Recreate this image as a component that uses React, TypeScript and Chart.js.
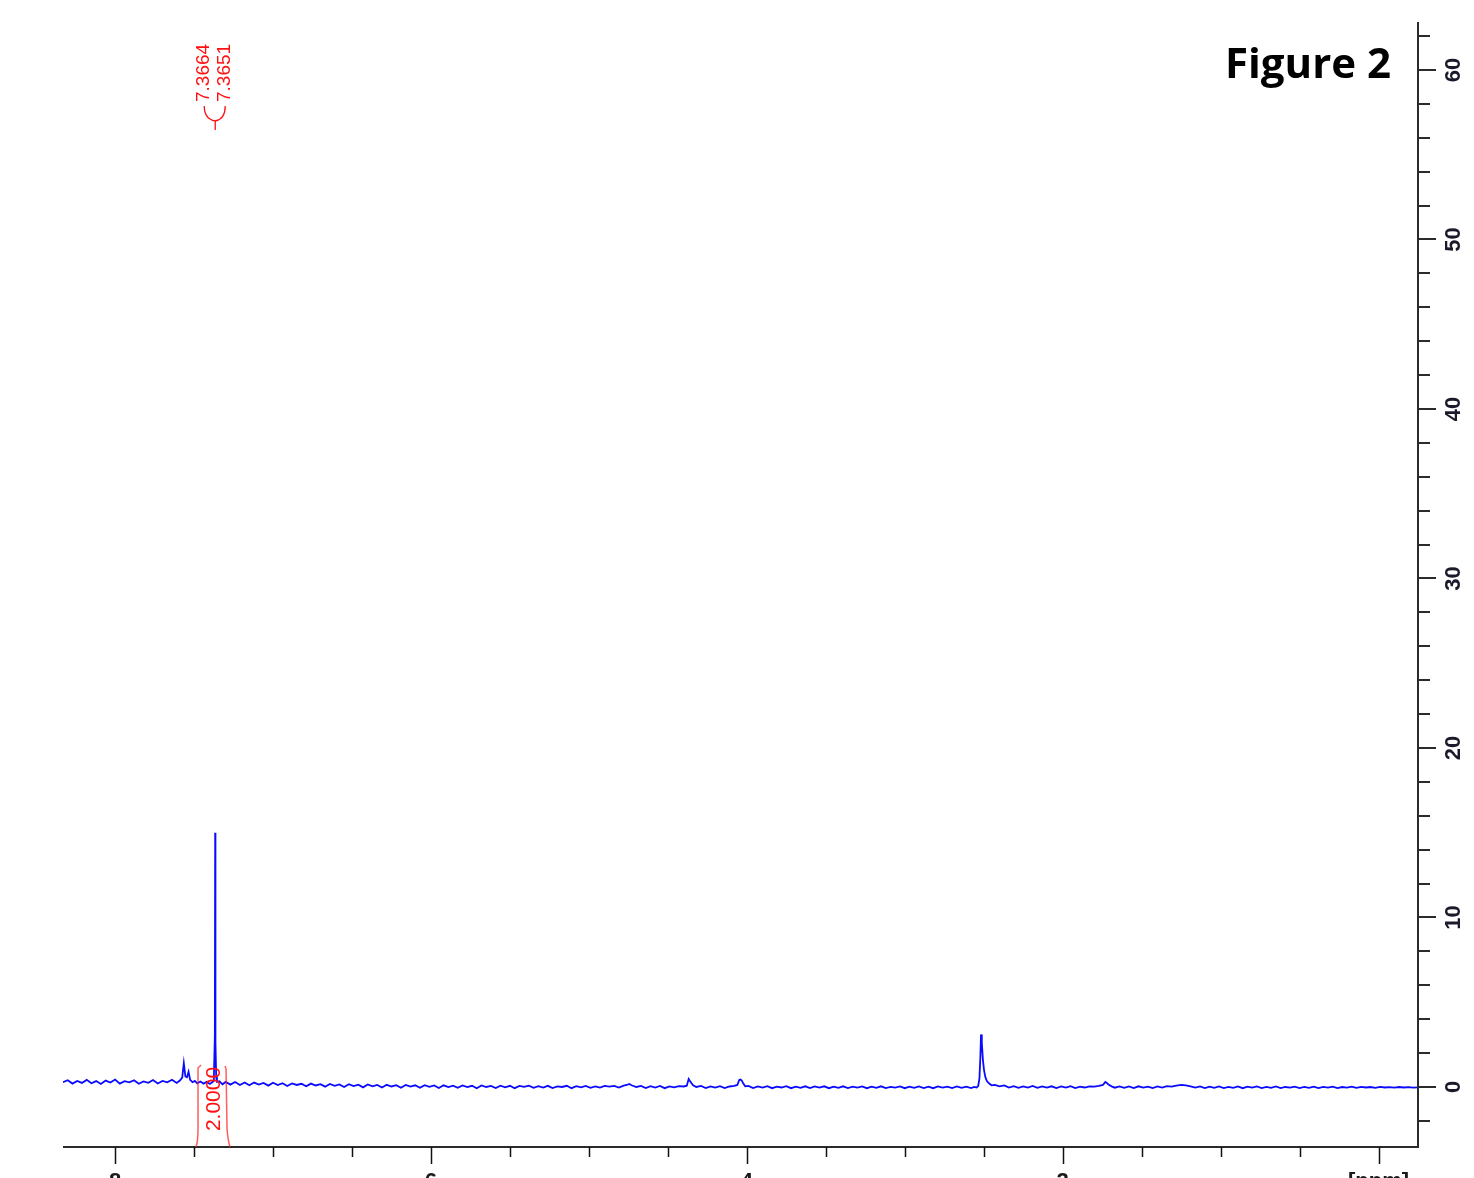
import React, { useEffect, useRef } from "react";
import { Chart, registerables } from "chart.js";

Chart.register(...registerables);

// ---- spectrum data (chemical shift in ppm, intensity); rows are aligned 10 per line ----
const ppm: number[] = [
  8.33, 8.3, 8.27, 8.24, 8.21, 8.18, 8.15, 8.12, 8.09, 8.06,
  8.03, 8.0, 7.97, 7.94, 7.91, 7.88, 7.85, 7.82, 7.79, 7.76,
  7.73, 7.7, 7.67, 7.64, 7.61, 7.59, 7.575, 7.565, 7.555, 7.545,
  7.535, 7.525, 7.51, 7.495, 7.48, 7.46, 7.44, 7.42, 7.4, 7.385,
  7.375, 7.3685, 7.3664, 7.3658, 7.3651, 7.363, 7.36, 7.355, 7.34, 7.32,
  7.3, 7.27, 7.24, 7.21, 7.18, 7.15, 7.12, 7.09, 7.06, 7.03,
  7.0, 6.97, 6.94, 6.91, 6.88, 6.85, 6.82, 6.79, 6.76, 6.73,
  6.7, 6.67, 6.64, 6.61, 6.58, 6.55, 6.52, 6.49, 6.46, 6.43,
  6.4, 6.37, 6.34, 6.31, 6.28, 6.25, 6.22, 6.19, 6.16, 6.13,
  6.1, 6.07, 6.04, 6.01, 5.98, 5.95, 5.92, 5.89, 5.86, 5.83,
  5.8, 5.77, 5.74, 5.71, 5.68, 5.65, 5.62, 5.59, 5.56, 5.53,
  5.5, 5.47, 5.44, 5.41, 5.38, 5.35, 5.32, 5.29, 5.26, 5.23,
  5.2, 5.17, 5.14, 5.11, 5.08, 5.05, 5.02, 4.99, 4.96, 4.93,
  4.9, 4.87, 4.84, 4.81, 4.78, 4.76, 4.745, 4.73, 4.7, 4.67,
  4.64, 4.61, 4.58, 4.55, 4.52, 4.49, 4.46, 4.43, 4.4, 4.38,
  4.368, 4.36, 4.35, 4.34, 4.32, 4.29, 4.26, 4.23, 4.2, 4.17,
  4.14, 4.11, 4.08, 4.06, 4.048, 4.04, 4.032, 4.022, 4.01, 3.99,
  3.96, 3.93, 3.9, 3.87, 3.84, 3.81, 3.78, 3.75, 3.72, 3.69,
  3.66, 3.63, 3.6, 3.57, 3.54, 3.51, 3.48, 3.45, 3.42, 3.39,
  3.36, 3.33, 3.3, 3.27, 3.24, 3.21, 3.18, 3.15, 3.12, 3.09,
  3.06, 3.03, 3.0, 2.97, 2.94, 2.91, 2.88, 2.85, 2.82, 2.79,
  2.76, 2.73, 2.7, 2.67, 2.64, 2.61, 2.58, 2.56, 2.545, 2.535,
  2.527, 2.521, 2.517, 2.512, 2.505, 2.498, 2.49, 2.48, 2.465, 2.45,
  2.43, 2.4, 2.37, 2.34, 2.31, 2.28, 2.25, 2.22, 2.19, 2.16,
  2.13, 2.1, 2.07, 2.04, 2.01, 1.98, 1.95, 1.92, 1.89, 1.86,
  1.83, 1.8, 1.77, 1.745, 1.73, 1.72, 1.71, 1.69, 1.67, 1.64,
  1.61, 1.58, 1.55, 1.52, 1.49, 1.46, 1.43, 1.4, 1.37, 1.34,
  1.31, 1.28, 1.25, 1.22, 1.19, 1.16, 1.13, 1.1, 1.07, 1.04,
  1.01, 0.98, 0.95, 0.92, 0.89, 0.86, 0.83, 0.8, 0.77, 0.74,
  0.71, 0.68, 0.65, 0.62, 0.59, 0.56, 0.53, 0.5, 0.47, 0.44,
  0.41, 0.38, 0.35, 0.32, 0.29, 0.26, 0.23, 0.2, 0.17, 0.14,
  0.11, 0.08, 0.05, 0.02, -0.01, -0.04, -0.07, -0.1, -0.13, -0.16,
  -0.19, -0.22, -0.25,
];

const intensity: number[] = [
  0.28, 0.4, 0.2, 0.36, 0.24, 0.42, 0.22, 0.35, 0.18, 0.38,
  0.26, 0.44, 0.2, 0.34, 0.27, 0.4, 0.19, 0.33, 0.25, 0.41,
  0.21, 0.36, 0.28, 0.43, 0.24, 0.38, 0.55, 1.4, 0.62, 0.58,
  0.9, 0.42, 0.28, 0.36, 0.22, 0.32, 0.2, 0.3, 0.18, 0.28,
  0.36, 3.0, 15.0, 7.2, 9.2, 2.6, 0.6, 0.3, 0.34, 0.16,
  0.3, 0.14, 0.29, 0.12, 0.27, 0.1, 0.26, 0.14, 0.24, 0.08,
  0.25, 0.11, 0.22, 0.06, 0.21, 0.12, 0.19, 0.04, 0.2, 0.09,
  0.17, 0.02, 0.18, 0.07, 0.15, 0.0, 0.16, 0.05, 0.14, -0.02,
  0.15, 0.04, 0.12, -0.03, 0.13, 0.03, 0.11, -0.04, 0.12, 0.02,
  0.1, -0.05, 0.11, 0.01, 0.09, -0.06, 0.1, 0.0, 0.08, -0.05,
  0.09, -0.01, 0.07, -0.07, 0.09, 0.0, 0.06, -0.06, 0.08, -0.02,
  0.07, -0.07, 0.06, 0.01, 0.08, -0.05, 0.05, -0.03, 0.07, -0.06,
  0.04, 0.0, 0.07, -0.07, 0.05, -0.02, 0.06, -0.05, 0.04, -0.03,
  0.07, 0.02, 0.06, -0.03, 0.08, 0.12, 0.18, 0.1, 0.0, 0.06,
  -0.06, 0.05, -0.03, 0.06, -0.07, 0.04, -0.02, 0.05, 0.03, 0.08,
  0.48, 0.36, 0.22, 0.1, 0.0, 0.06, -0.06, 0.04, -0.03, 0.05,
  -0.06, 0.03, 0.06, 0.12, 0.42, 0.44, 0.38, 0.2, 0.04, 0.06,
  -0.06, 0.03, -0.04, 0.05, -0.07, 0.02, -0.03, 0.05, -0.07, 0.02,
  -0.05, 0.04, -0.06, 0.03, -0.04, 0.04, -0.07, 0.02, -0.05, 0.04,
  -0.06, 0.02, -0.04, 0.03, -0.07, 0.02, -0.05, 0.04, -0.06, 0.01,
  -0.04, 0.03, -0.07, 0.02, -0.05, 0.03, -0.06, 0.02, -0.07, 0.03,
  -0.04, 0.02, -0.06, 0.03, -0.05, 0.02, -0.06, 0.01, -0.03, 0.05,
  0.5, 1.8, 3.1, 2.6, 1.6, 1.0, 0.6, 0.35, 0.2, 0.1,
  0.12, 0.04, 0.09, -0.03, 0.05, -0.05, 0.04, -0.03, 0.06, -0.05,
  0.03, -0.04, 0.04, -0.06, 0.03, -0.04, 0.05, -0.06, 0.02, -0.03,
  0.04, 0.02, 0.06, 0.12, 0.3, 0.24, 0.14, 0.04, -0.04, 0.04,
  -0.05, 0.03, -0.06, 0.04, -0.04, 0.02, -0.06, 0.03, -0.04, 0.05,
  0.02, 0.08, 0.12, 0.1, 0.04, -0.04, 0.03, -0.06, 0.02, -0.05,
  0.03, -0.06, 0.01, -0.05, 0.03, -0.07, 0.02, -0.04, 0.03, -0.06,
  0.01, -0.05, 0.03, -0.07, 0.0, -0.04, 0.02, -0.06, 0.01, -0.05,
  0.02, -0.07, 0.01, -0.04, 0.02, -0.06, 0.0, -0.04, 0.02, -0.05,
  0.01, -0.03, 0.0, -0.05, 0.01, -0.03, -0.01, -0.04, 0.0, -0.03,
  -0.01, -0.04, -0.02,
];

// ---- axes ----
const xMin = -0.25;
const xMax = 8.33;
const yMin = -3.54;
const yMax = 62.83;
const xMajorTicks: number[] = [8, 6, 4, 2, 0];
const xTickLabels: string[] = ["8", "6", "4", "2", "[ppm]"];
const xMinorTicks: number[] = [7.5, 7, 6.5, 5.5, 5, 4.5, 3.5, 3, 2.5, 1.5, 1, 0.5];
const yMajorTicks: number[] = [0, 10, 20, 30, 40, 50, 60];
const yTickLabels: string[] = ["0", "10", "20", "30", "40", "50", "60"];
const yMinorTicks: number[] = [-2, 2, 4, 6, 8, 12, 14, 16, 18, 22, 24, 26, 28, 32, 34, 36, 38, 42, 44, 46, 48, 52, 54, 56, 58, 62];

// ---- annotations ----
const peakLabels: string[] = ["7.3664", "7.3651"];
const peakPpm = 7.366;
const integralFrom = 7.475;
const integralTo = 7.285;
const integralLabel = "2.0000";
const integralTop = 1.3;
const titleText = "Figure 2";

const annotationPlugin = {
  id: "nmrDecor",
  afterDraw(chart: any) {
    const ctx: CanvasRenderingContext2D = chart.ctx;
    const xs = chart.scales.x;
    const ys = chart.scales.y;
    const area = chart.chartArea;
    ctx.save();

    // axes lines
    ctx.strokeStyle = "#2b2b2b";
    ctx.lineWidth = 2;
    ctx.beginPath();
    ctx.moveTo(area.left, area.bottom);
    ctx.lineTo(area.right, area.bottom);
    ctx.lineTo(area.right, area.top);
    ctx.stroke();

    // x ticks
    ctx.lineWidth = 1.5;
    ctx.strokeStyle = "#111";
    xMajorTicks.forEach((v) => {
      const px = Math.round(xs.getPixelForValue(v)) + 0.5;
      ctx.beginPath();
      ctx.moveTo(px, area.bottom);
      ctx.lineTo(px, area.bottom + 17);
      ctx.stroke();
    });
    xMinorTicks.forEach((v) => {
      const px = Math.round(xs.getPixelForValue(v)) + 0.5;
      ctx.beginPath();
      ctx.moveTo(px, area.bottom);
      ctx.lineTo(px, area.bottom + 10);
      ctx.stroke();
    });
    ctx.fillStyle = "#1a1a1a";
    ctx.font = 'bold 22px "Liberation Sans", Arial, sans-serif';
    ctx.textAlign = "center";
    ctx.textBaseline = "alphabetic";
    xMajorTicks.forEach((v, i) => {
      ctx.fillText(xTickLabels[i], xs.getPixelForValue(v), area.bottom + 41);
    });

    // y ticks
    ctx.strokeStyle = "#2b2b2b";
    ctx.lineWidth = 2;
    yMajorTicks.forEach((v) => {
      const py = Math.round(ys.getPixelForValue(v));
      ctx.beginPath();
      ctx.moveTo(area.right, py);
      ctx.lineTo(area.right + 18, py);
      ctx.stroke();
    });
    yMinorTicks.forEach((v) => {
      const py = Math.round(ys.getPixelForValue(v));
      ctx.beginPath();
      ctx.moveTo(area.right, py);
      ctx.lineTo(area.right + 12, py);
      ctx.stroke();
    });
    ctx.fillStyle = "#1a1a2a";
    ctx.textAlign = "center";
    ctx.textBaseline = "middle";
    yMajorTicks.forEach((v, i) => {
      const py = ys.getPixelForValue(v);
      ctx.save();
      ctx.translate(area.right + 35, py);
      ctx.rotate(-Math.PI / 2);
      ctx.fillText(yTickLabels[i], 0, 1);
      ctx.restore();
    });

    // peak labels
    const pk = xs.getPixelForValue(peakPpm);
    ctx.fillStyle = "#ff1010";
    ctx.font = '19px "Liberation Sans", Arial, sans-serif';
    ctx.textAlign = "left";
    ctx.textBaseline = "middle";
    const offs = [-11, 10];
    peakLabels.forEach((t, i) => {
      ctx.save();
      ctx.translate(pk + offs[i], 102);
      ctx.rotate(-Math.PI / 2);
      ctx.fillText(t, 0, 0);
      ctx.restore();
    });
    // brace
    ctx.strokeStyle = "#ff1010";
    ctx.lineWidth = 1.3;
    ctx.beginPath();
    ctx.moveTo(pk + offs[0], 106);
    ctx.quadraticCurveTo(pk + offs[0], 119, pk, 121);
    ctx.quadraticCurveTo(pk + offs[1], 119, pk + offs[1], 106);
    ctx.moveTo(pk, 121);
    ctx.lineTo(pk, 130);
    ctx.stroke();

    // integral region
    const il = xs.getPixelForValue(integralFrom);
    const ir = xs.getPixelForValue(integralTo);
    const it = ys.getPixelForValue(integralTop);
    ctx.strokeStyle = "rgba(255,40,40,0.75)";
    ctx.lineWidth = 1.5;
    ctx.beginPath();
    ctx.moveTo(il + 3, it);
    ctx.lineTo(il, it + 3);
    ctx.lineTo(il, area.bottom - 18);
    ctx.quadraticCurveTo(il, area.bottom - 6, il - 2, area.bottom);
    ctx.moveTo(ir - 3, it + 1);
    ctx.lineTo(ir - 2, it + 4);
    ctx.lineTo(ir - 1, area.bottom - 18);
    ctx.quadraticCurveTo(ir, area.bottom - 6, ir + 2, area.bottom);
    ctx.stroke();
    ctx.fillStyle = "#ff1010";
    ctx.font = '21px "Liberation Sans", Arial, sans-serif';
    ctx.textAlign = "center";
    ctx.textBaseline = "middle";
    ctx.save();
    ctx.translate((il + ir) / 2, 1099);
    ctx.rotate(-Math.PI / 2);
    ctx.fillText(integralLabel, 0, 1);
    ctx.restore();

    // title
    ctx.fillStyle = "#000";
    ctx.font = '700 42px "Open Sans", sans-serif';
    ctx.textAlign = "right";
    ctx.textBaseline = "alphabetic";
    ctx.fillText(titleText, 1391, 78);

    ctx.restore();
  },
};

export default function App() {
  const canvasRef = useRef<HTMLCanvasElement | null>(null);

  useEffect(() => {
    let chart: Chart | null = null;
    let cancelled = false;
    const build = () => {
      if (cancelled || !canvasRef.current) return;
      chart = new Chart(canvasRef.current, {
        type: "line",
        data: {
          datasets: [
            {
              data: ppm.map((x, i) => ({ x, y: intensity[i] })),
              borderColor: "#0a0aff",
              borderWidth: 1.8,
              pointRadius: 0,
              tension: 0,
              fill: false,
            },
          ],
        },
        options: {
          animation: false,
          responsive: false,
          devicePixelRatio: 1,
          layout: { padding: { left: 63, right: 56, top: 22, bottom: 31 } },
          scales: {
            x: { type: "linear", reverse: true, min: xMin, max: xMax, display: false },
            y: { type: "linear", min: yMin, max: yMax, display: false },
          },
          plugins: { legend: { display: false }, tooltip: { enabled: false } },
        },
        plugins: [annotationPlugin],
      } as any);
    };
    const fontsReady = (document as any).fonts
      ? Promise.all([
          document.fonts.load('700 42px "Open Sans"'),
          document.fonts.load('bold 22px "Liberation Sans"'),
          document.fonts.load('19px "Liberation Sans"'),
        ]).catch(() => null)
      : Promise.resolve(null);
    fontsReady.then(build);
    return () => {
      cancelled = true;
      if (chart) chart.destroy();
    };
  }, []);

  return (
    <div style={{ position: "fixed", left: 0, top: 0, width: 1474, height: 1178, background: "#fff" }}>
      <canvas ref={canvasRef} width={1474} height={1178} style={{ display: "block", width: 1474, height: 1178 }} />
    </div>
  );
}
